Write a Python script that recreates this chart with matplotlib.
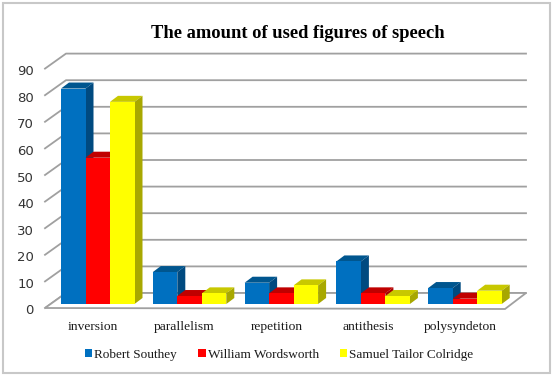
import matplotlib
matplotlib.use('Agg')
import matplotlib.pyplot as plt
from matplotlib.patches import Polygon, Patch

categories = ['inversion', 'parallelism', 'repetition', 'antithesis', 'polysyndeton']
southey = [81, 12, 8, 16, 6]
wordsworth = [55, 3, 4, 4, 2]
colridge = [76, 4, 7, 3, 5]
series_names = ['Robert Southey', 'William Wordsworth', 'Samuel Tailor Colridge']
y_ticks = [0, 10, 20, 30, 40, 50, 60, 70, 80, 90]

# cores: frente, topo, lado
cores = [('#0070c0', '#00568f', '#004a80'),
         ('#ff0000', '#c00000', '#a80000'),
         ('#ffff00', '#c8c800', '#a8a800')]

# escala em pixels da figura
px_x = 91.8
px_y = 2.66
dx = 8 / px_x
dy = 6 / px_y
larg = 24.5 / px_x

fig = plt.figure(figsize=(5.55, 3.78), dpi=100)
ax = fig.add_axes([0, 0, 1, 1])
ax.set_xlim((0 - 97.75) / px_x, (555 - 97.75) / px_x)
ax.set_ylim((304 - 378) / px_y, 304 / px_y)
ax.axis('off')


def px(x, y):
    return (x - 97.75) / px_x, (304 - y) / px_y


# moldura
ax.add_patch(Polygon([px(2.5, 3), px(550, 3), px(550, 372.5), px(2.5, 372.5)], closed=True,
                     fill=False, ec='#c8c8c8', lw=1.5))

# parede do fundo
x0_f, y0_f = px(45, 308)
x0_b, y0_b = px(66, 293)
x1_b, _ = px(526, 293)
x1_f, y1_f = px(505, 309)
for v in y_ticks:
    ax.plot([x0_f, x0_b, x1_b], [y0_f + v, y0_b + v, y0_b + v], color='#a0a0a0', lw=1.3, zorder=1)
    ax.text(x0_f - 0.12, y0_f + v - 3 / px_y, str(v), ha='right', va='center', fontsize=9.5,
            family='DejaVu Sans', color='#333333')

# chao
ax.add_patch(Polygon([(x0_f, y0_f), (x0_b, y0_b), (x1_b, y0_b), (x1_f, y1_f)], closed=True,
                     fc='white', ec='#a0a0a0', lw=1.3, zorder=1.5))

# barras
for i, cat in enumerate(categories):
    for j, vals in enumerate([southey, wordsworth, colridge]):
        esq = i + (j - 1.5) * larg
        h = vals[i]
        frente, topo, lado = cores[j]
        z = 2 + i + j * 0.1
        ax.add_patch(Polygon([(esq, h), (esq + dx, h + dy), (esq + larg + dx, h + dy), (esq + larg, h)],
                             closed=True, fc=topo, ec='none', zorder=z))
        ax.add_patch(Polygon([(esq + larg, 0), (esq + larg + dx, dy), (esq + larg + dx, h + dy), (esq + larg, h)],
                             closed=True, fc=lado, ec='none', zorder=z))
        ax.bar(esq, h, width=larg, align='edge', color=frente, zorder=z + 0.01)
    ax.text(i - 5 / px_x, px(0, 327)[1], cat, ha='center', va='center', fontsize=9.7,
            family='Liberation Serif', color='#1a1a1a')

# legenda
handles = [Patch(fc=cores[k][0], ec='none') for k in range(3)]
ax.legend(handles, series_names, ncol=3, loc='center', bbox_to_anchor=(0.503, 0.062), frameon=False,
          prop={'family': 'Liberation Serif', 'size': 9.5}, handlelength=0.55, handleheight=0.55,
          handletextpad=0.15, columnspacing=1.6, labelcolor='#1a1a1a')

# titulo
ax.text(px(298, 0)[0], px(0, 33)[1], 'The amount of used figures of speech', ha='center', va='center',
        fontsize=13.3, fontweight='bold', family='Liberation Serif', color='black')

fig.savefig('out.png', dpi=100)
